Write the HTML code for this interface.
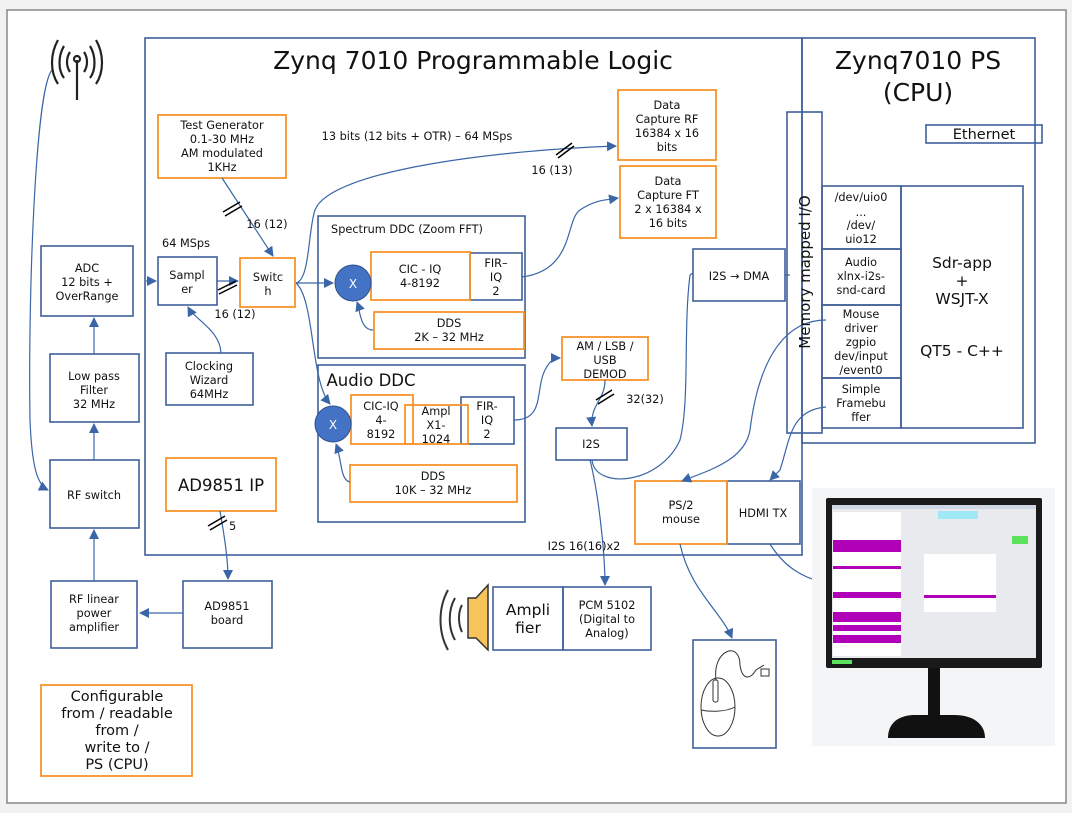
<!DOCTYPE html>
<html><head><meta charset="utf-8"><style>
html,body{margin:0;padding:0;background:#fff;}
svg{display:block;font-family:"DejaVu Sans","Liberation Sans",sans-serif;}
text{fill:#111;}
</style></head><body>
<svg width="1072" height="813" viewBox="0 0 1072 813" xmlns="http://www.w3.org/2000/svg">
<defs>
<marker id="a" markerWidth="10" markerHeight="10" refX="9" refY="5" orient="auto" markerUnits="userSpaceOnUse"><path d="M0,0 L10,5 L0,10 z" fill="#3a66a7"/></marker>
</defs>
<rect x="0" y="0" width="1072" height="813" fill="#f2f2f2"/>
<rect x="7" y="10" width="1059" height="793" fill="#fff" stroke="#888" stroke-width="1.5"/>
<g fill="none" stroke="#3f5f9a" stroke-width="1.6">
<rect x="145" y="38" width="657" height="517"/>
<rect x="802" y="38" width="233" height="405"/>
<rect x="926" y="125" width="116" height="18"/>
<rect x="787" y="112" width="35" height="321"/>
<rect x="822" y="186" width="79" height="63"/>
<rect x="822" y="249" width="79" height="56"/>
<rect x="822" y="305" width="79" height="73"/>
<rect x="822" y="378" width="79" height="50"/>
<rect x="901" y="186" width="122" height="242"/>
<rect x="41" y="246" width="92" height="70"/>
<rect x="50" y="354" width="89" height="68"/>
<rect x="50" y="460" width="89" height="68"/>
<rect x="51" y="581" width="86" height="67"/>
<rect x="183" y="581" width="89" height="67"/>
<rect x="158" y="257" width="59" height="48"/>
<rect x="166" y="353" width="87" height="52"/>
<rect x="318" y="216" width="207" height="142"/>
<rect x="470" y="253" width="52" height="47"/>
<rect x="318" y="365" width="207" height="157"/>
<rect x="461" y="397" width="53" height="47"/>
<rect x="693" y="249" width="92" height="52"/>
<rect x="556" y="428" width="71" height="32"/>
<rect x="727" y="481" width="73" height="63"/>
<rect x="493" y="587" width="70" height="63"/>
<rect x="563" y="587" width="88" height="63"/>
<rect x="693" y="640" width="83" height="108"/>
</g>
<g fill="none" stroke="#f7932a" stroke-width="1.8">
<rect x="158" y="115" width="128" height="63"/>
<rect x="240" y="258" width="55" height="49"/>
<rect x="371" y="252" width="99" height="48"/>
<rect x="374" y="312" width="150" height="37"/>
<rect x="351" y="395" width="62" height="49"/>
<rect x="405" y="405" width="63" height="39"/>
<rect x="350" y="465" width="167" height="37"/>
<rect x="618" y="90" width="98" height="70"/>
<rect x="620" y="166" width="96" height="72"/>
<rect x="562" y="337" width="86" height="43"/>
<rect x="635" y="481" width="92" height="63"/>
<rect x="166" y="458" width="110" height="53"/>
<rect x="41" y="685" width="151" height="91"/>
</g>
<circle cx="353" cy="283" r="18" fill="#4472c4" stroke="#2f528f"/>
<circle cx="333" cy="424" r="18" fill="#4472c4" stroke="#2f528f"/>
<text x="353" y="288" font-size="12" text-anchor="middle" style="fill:#fff">X</text>
<text x="333" y="429" font-size="12" text-anchor="middle" style="fill:#fff">X</text>
<g fill="none" stroke="#3a66a7" stroke-width="1.2">
<path d="M52,70 C35,90 28,300 30,420 C32,470 38,485 48,490" marker-end="url(#a)"/>
<path d="M94,460 L94,424" marker-end="url(#a)"/>
<path d="M94,354 L94,318" marker-end="url(#a)"/>
<path d="M94,581 L94,530" marker-end="url(#a)"/>
<path d="M183,613 L140,613" marker-end="url(#a)"/>
<path d="M220,511 C225,540 228,560 228,579" marker-end="url(#a)"/>
<path d="M146,281 L156,281" marker-end="url(#a)"/>
<path d="M222,178 L273,256" marker-end="url(#a)"/>
<path d="M217,281 L238,281" marker-end="url(#a)"/>
<path d="M221,353 C220,330 195,320 188,307" marker-end="url(#a)"/>
<path d="M296,283 L333,283" marker-end="url(#a)"/>
<path d="M296,283 C310,280 308,230 315,210 C330,170 500,150 616,146" marker-end="url(#a)"/>
<path d="M296,283 C315,300 310,380 330,404" marker-end="url(#a)"/>
<path d="M373,330 C360,330 360,310 357,302" marker-end="url(#a)"/>
<path d="M350,482 C340,480 342,460 336,444" marker-end="url(#a)"/>
<path d="M522,277 C575,270 565,220 580,210 C595,200 605,200 618,198" marker-end="url(#a)"/>
<path d="M514,420 C545,420 535,390 545,370 C550,360 555,358 560,358" marker-end="url(#a)"/>
<path d="M605,380 C605,400 590,405 592,426" marker-end="url(#a)"/>
<path d="M592,460 C595,490 660,485 680,440 C690,400 683,330 690,275 L693,273"/>
<path d="M590,460 C600,500 605,560 605,585" marker-end="url(#a)"/>
<path d="M785,275 L790,275"/>
<path d="M826,320 C790,320 760,350 750,430 C745,460 710,470 682,481" marker-end="url(#a)"/>
<path d="M826,407 C790,410 790,440 780,470 L770,480" marker-end="url(#a)"/>
<path d="M680,544 C690,590 720,610 732,638" marker-end="url(#a)"/>
<path d="M770,544 C780,560 800,585 850,585" marker-end="url(#a)"/>
</g>
<g stroke="#000" stroke-width="1.5">
<path d="M223,212 L240,202 M225,216 L242,206"/>
<path d="M218,290 L236,281 M219,294 L237,285"/>
<path d="M556,155 L572,143 M558,158 L574,146"/>
<path d="M596,400 L612,390 M598,404 L614,394"/>
<path d="M208,526 L225,516 M210,530 L227,520"/>
</g>
<g fill="none" stroke="#222" stroke-width="2.2">
<line x1="77" y1="60" x2="77" y2="100"/>
<circle cx="77" cy="59" r="3"/>
<path d="M70,52 C66,58 66,66 70,72 M84,52 C88,58 88,66 84,72"/>
<path d="M64,46 C58,56 58,70 64,78 M90,46 C96,56 96,70 90,78"/>
<path d="M58,40 C50,54 50,72 58,84 M96,40 C104,54 104,72 96,84"/>
</g>
<path d="M468,598 L476,598 L488,585 L488,650 L476,638 L468,638 z" fill="#f9c35b" stroke="#333" stroke-width="1.5"/>
<g fill="none" stroke="#333" stroke-width="2"><path d="M462,605 C458,612 458,624 462,632"/><path d="M455,598 C448,610 448,628 455,640"/><path d="M448,590 C438,608 438,632 448,650"/></g>
<g fill="none" stroke="#333" stroke-width="1"><ellipse cx="718" cy="707" rx="17" ry="29"/><path d="M701,710 C710,712 726,712 735,707"/><rect x="713" y="680" width="5" height="22" rx="2"/><path d="M716,680 C712,650 740,640 740,665 C742,680 750,680 756,670 L764,665"/><rect x="761" y="669" width="8" height="7"/></g>
<rect x="812" y="488" width="243" height="258" fill="#f4f5f7"/>
<rect x="826" y="498" width="216" height="170" fill="#1a1a1a" rx="2"/>
<rect x="832" y="505" width="204" height="153" fill="#e8eaee"/>
<rect x="832" y="505" width="204" height="4" fill="#cfd6e4"/>
<rect x="833" y="512" width="68" height="144" fill="#fff"/>
<g fill="#b000b8"><rect x="833" y="540" width="68" height="12"/><rect x="833" y="566" width="68" height="3"/><rect x="833" y="592" width="68" height="6"/><rect x="833" y="612" width="68" height="10"/><rect x="833" y="625" width="68" height="6"/><rect x="833" y="635" width="68" height="8"/></g>
<rect x="924" y="554" width="72" height="58" fill="#fff"/>
<rect x="924" y="595" width="72" height="3" fill="#b000b8"/>
<rect x="938" y="511" width="40" height="8" fill="#9ee9f3"/>
<rect x="1012" y="536" width="16" height="8" fill="#5be15b"/>
<rect x="832" y="660" width="20" height="4" fill="#5be15b"/>
<rect x="928" y="668" width="12" height="48" fill="#111"/>
<path d="M888,738 C888,722 900,715 915,715 L955,715 C970,715 985,722 985,738 z" fill="#111"/>
<g font-size="11.3" text-anchor="middle">
<text x="473" y="69" font-size="25">Zynq 7010 Programmable Logic</text>
<text x="918" y="69" font-size="25">Zynq7010 PS</text>
<text x="918" y="101" font-size="25">(CPU)</text>
<text x="984" y="139" font-size="14.5">Ethernet</text>
<text transform="translate(810,272) rotate(-90)" font-size="15">Memory mapped I/O</text>
<text x="861" y="201">/dev/uio0</text><text x="861" y="216">...</text><text x="861" y="229">/dev/</text><text x="861" y="243">uio12</text>
<text x="861" y="266">Audio</text><text x="861" y="280">xlnx-i2s-</text><text x="861" y="294">snd-card</text>
<text x="861" y="318">Mouse</text><text x="861" y="332">driver</text><text x="861" y="346">zgpio</text><text x="861" y="360">dev/input</text><text x="861" y="374">/event0</text>
<text x="861" y="393">Simple</text><text x="861" y="407">Framebu</text><text x="861" y="421">ffer</text>
<text x="962" y="268" font-size="15.5">Sdr-app</text><text x="962" y="286" font-size="15.5">+</text><text x="962" y="304" font-size="15.5">WSJT-X</text><text x="962" y="356" font-size="15.5">QT5 - C++</text>
<text x="87" y="272">ADC</text><text x="87" y="286">12 bits +</text><text x="87" y="300">OverRange</text>
<text x="94" y="380">Low pass</text><text x="94" y="394">Filter</text><text x="94" y="408">32 MHz</text>
<text x="94" y="499">RF switch</text>
<text x="94" y="603">RF linear</text><text x="94" y="617">power</text><text x="94" y="631">amplifier</text>
<text x="227" y="610">AD9851</text><text x="227" y="624">board</text>
<text x="221" y="491" font-size="16.5">AD9851 IP</text>
<text x="229" y="530" text-anchor="start">5</text>
<text x="117" y="701" font-size="14.5">Configurable</text><text x="117" y="718" font-size="14.5">from / readable</text><text x="117" y="735" font-size="14.5">from /</text><text x="117" y="752" font-size="14.5">write to /</text><text x="117" y="769" font-size="14.5">PS (CPU)</text>
<text x="222" y="129">Test Generator</text><text x="222" y="143">0.1-30 MHz</text><text x="222" y="157">AM modulated</text><text x="222" y="171">1KHz</text>
<text x="267" y="228">16 (12)</text>
<text x="186" y="247">64 MSps</text>
<text x="187" y="279">Sampl</text><text x="187" y="293">er</text>
<text x="268" y="281">Switc</text><text x="268" y="295">h</text>
<text x="235" y="318">16 (12)</text>
<text x="209" y="370">Clocking</text><text x="209" y="384">Wizard</text><text x="209" y="398">64MHz</text>
<text x="417" y="140" text-anchor="middle">13 bits (12 bits + OTR) – 64 MSps</text>
<text x="552" y="174">16 (13)</text>
<text x="407" y="233">Spectrum DDC (Zoom FFT)</text>
<text x="420" y="273">CIC - IQ</text><text x="420" y="287">4-8192</text>
<text x="496" y="267">FIR–</text><text x="496" y="281">IQ</text><text x="496" y="295">2</text>
<text x="449" y="327">DDS</text><text x="449" y="341">2K – 32 MHz</text>
<text x="371" y="386" font-size="16.5">Audio DDC</text>
<text x="381" y="410">CIC-IQ</text><text x="381" y="424">4-</text><text x="381" y="438">8192</text>
<text x="436" y="415">Ampl</text><text x="436" y="429">X1-</text><text x="436" y="443">1024</text>
<text x="487" y="410">FIR-</text><text x="487" y="424">IQ</text><text x="487" y="438">2</text>
<text x="433" y="480">DDS</text><text x="433" y="494">10K – 32 MHz</text>
<text x="667" y="109">Data</text><text x="667" y="123">Capture RF</text><text x="667" y="137">16384 x 16</text><text x="667" y="151">bits</text>
<text x="668" y="185">Data</text><text x="668" y="199">Capture FT</text><text x="668" y="213">2 x 16384 x</text><text x="668" y="227">16 bits</text>
<text x="739" y="280">I2S → DMA</text>
<text x="605" y="350">AM / LSB /</text><text x="605" y="364">USB</text><text x="605" y="378">DEMOD</text>
<text x="645" y="403">32(32)</text>
<text x="591" y="448">I2S</text>
<text x="584" y="550">I2S 16(16)x2</text>
<text x="681" y="509">PS/2</text><text x="681" y="523">mouse</text>
<text x="763" y="517">HDMI TX</text>
<text x="528" y="615" font-size="15.5">Ampli</text><text x="528" y="633" font-size="15.5">fier</text>
<text x="607" y="609">PCM 5102</text><text x="607" y="623">(Digital to</text><text x="607" y="637">Analog)</text>
</g>
</svg>
</body></html>
